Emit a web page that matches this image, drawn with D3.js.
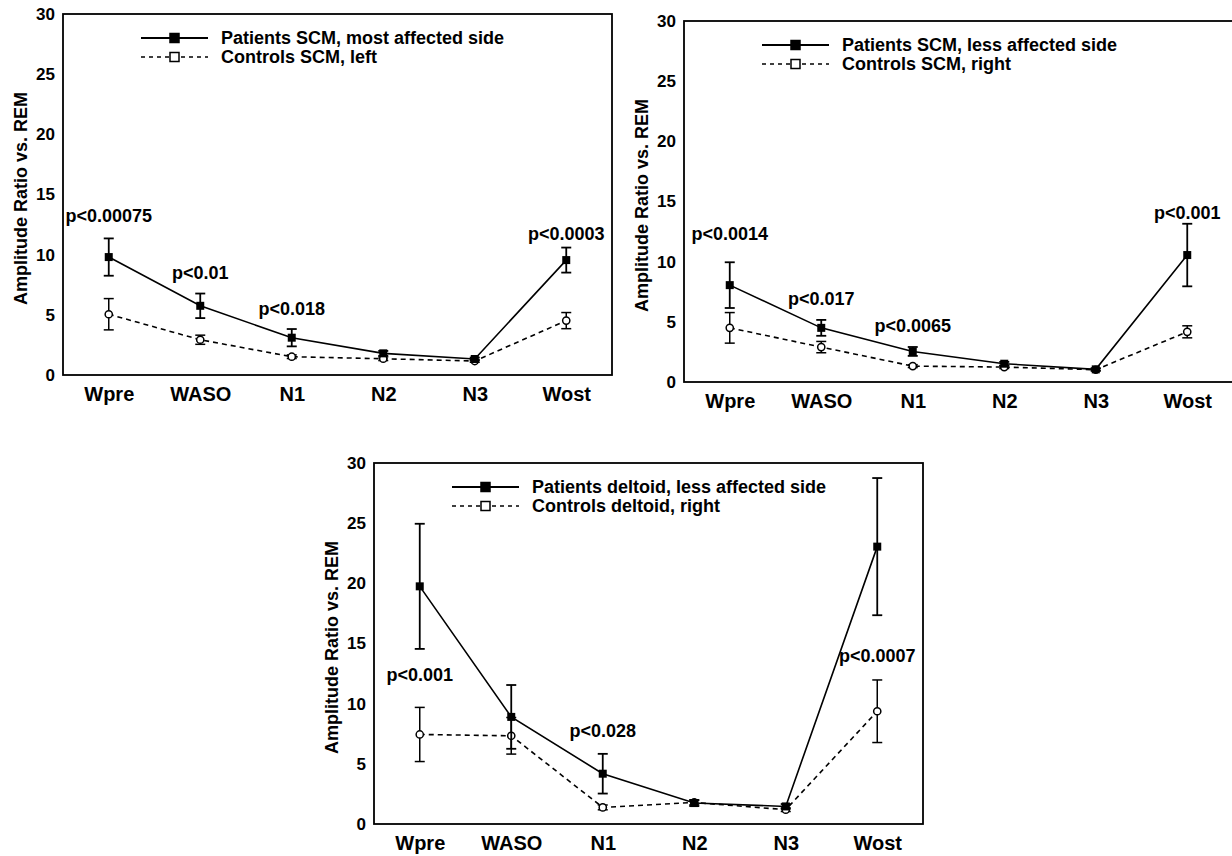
<!DOCTYPE html>
<html>
<head>
<meta charset="utf-8">
<script src="https://cdn.jsdelivr.net/npm/d3@7"></script>
<style>
  body { margin: 0; background: #fff; }
  svg { display: block; font-family: "Liberation Sans", Arial, sans-serif; font-weight: bold; }
</style>
</head>
<body>
<svg width="1232" height="856"></svg>
<script>
// sleep stages on the x axis
const stages = ['Wpre', 'WASO', 'N1', 'N2', 'N3', 'Wost'];
const yTicks = [0, 5, 10, 15, 20, 25, 30];

// panel A: SCM most affected side vs left
const patMeanA = [9.8, 5.75, 3.1, 1.8, 1.33, 9.55];
const patSemA  = [1.55, 1.02, 0.72, 0.2, 0.12, 1.04];
const conMeanA = [5.05, 2.93, 1.52, 1.35, 1.16, 4.52];
const conSemA  = [1.3, 0.38, 0.15, 0.15, 0.1, 0.67];
const pTextA = ['p<0.00075', 'p<0.01', 'p<0.018', 'p<0.0003'];
const pStageA = ['Wpre', 'WASO', 'N1', 'Wost'];
const pValA = [13.2, 8.5, 5.47, 11.74];

// panel B: SCM less affected side vs right
const patMeanB = [8.05, 4.5, 2.54, 1.52, 1.05, 10.55];
const patSemB  = [1.9, 0.66, 0.37, 0.15, 0.1, 2.6];
const conMeanB = [4.5, 2.9, 1.32, 1.24, 1.02, 4.17];
const conSemB  = [1.27, 0.47, 0.12, 0.12, 0.1, 0.5];
const pTextB = ['p<0.0014', 'p<0.017', 'p<0.0065', 'p<0.001'];
const pStageB = ['Wpre', 'WASO', 'N1', 'Wost'];
const pValB = [12.3, 6.9, 4.63, 14.06];

// panel C: deltoid less affected side vs right
const patMeanC = [19.75, 8.9, 4.18, 1.74, 1.46, 23.05];
const patSemC  = [5.2, 2.65, 1.65, 0.25, 0.2, 5.7];
const conMeanC = [7.44, 7.33, 1.38, 1.79, 1.19, 9.37];
const conSemC  = [2.25, 1.52, 0.2, 0.2, 0.15, 2.6];
const pTextC = ['p<0.001', 'p<0.028', 'p<0.0007'];
const pStageC = ['Wpre', 'N1', 'Wost'];
const pValC = [12.35, 7.75, 13.95];

const svg = d3.select('svg');
const W = 549, H = 361;

const panels = [
  { x: 63, y: 14, pm: patMeanA, ps: patSemA, cm: conMeanA, cs: conSemA,
    leg: ['Patients SCM, most affected side', 'Controls SCM, left'],
    pt: pTextA, pst: pStageA, pv: pValA },
  { x: 684, y: 21, pm: patMeanB, ps: patSemB, cm: conMeanB, cs: conSemB,
    leg: ['Patients SCM, less affected side', 'Controls SCM, right'],
    pt: pTextB, pst: pStageB, pv: pValB },
  { x: 374, y: 463, pm: patMeanC, ps: patSemC, cm: conMeanC, cs: conSemC,
    leg: ['Patients deltoid, less affected side', 'Controls deltoid, right'],
    pt: pTextC, pst: pStageC, pv: pValC }
];

const drawPanel = (p) => {
  const g = svg.append('g').attr('transform', `translate(${p.x},${p.y})`);

  const x = d3.scalePoint().domain(stages).range([0, W]).padding(0.5);
  const y = d3.scaleLinear().domain([0, 30]).range([H, 0]);

  g.append('rect')
    .attr('width', W).attr('height', H)
    .attr('fill', 'none').attr('stroke', '#000').attr('stroke-width', 1.8);

  const yAxis = g.append('g')
    .call(d3.axisLeft(y).tickValues(yTicks).tickSize(0).tickPadding(8));
  yAxis.select('.domain').remove();
  yAxis.selectAll('text').attr('font-size', 17).attr('font-weight', 'bold')
    .attr('font-family', '"Liberation Sans", Arial, sans-serif').attr('fill', '#000');

  const xAxis = g.append('g').attr('transform', `translate(0,${H})`)
    .call(d3.axisBottom(x).tickSize(0).tickPadding(12));
  xAxis.select('.domain').remove();
  xAxis.selectAll('text').attr('font-size', 20).attr('font-weight', 'bold')
    .attr('font-family', '"Liberation Sans", Arial, sans-serif').attr('fill', '#000');

  g.append('text')
    .attr('transform', `translate(-42,${H / 2 + 4}) rotate(-90)`)
    .attr('text-anchor', 'middle')
    .attr('dominant-baseline', 'central')
    .attr('font-size', 18)
    .text('Amplitude Ratio vs. REM');

  const line = d3.line().x((d, i) => x(stages[i])).y(d => y(d));

  const series = [
    { mean: p.cm, sem: p.cs, dash: '5,4', filled: false, ew: 1.5 },
    { mean: p.pm, sem: p.ps, dash: null, filled: true, ew: 1.8 }
  ];

  series.forEach(s => {
    g.append('path').datum(s.mean)
      .attr('d', line)
      .attr('fill', 'none').attr('stroke', '#000').attr('stroke-width', 1.6)
      .attr('stroke-dasharray', s.dash);

    const eb = g.append('g');
    s.mean.forEach((m, i) => {
      const cx = x(stages[i]);
      const lo = y(m - s.sem[i]), hi = y(m + s.sem[i]);
      eb.append('line').attr('x1', cx).attr('x2', cx).attr('y1', lo).attr('y2', hi);
      eb.append('line').attr('x1', cx - 5).attr('x2', cx + 5).attr('y1', lo).attr('y2', lo);
      eb.append('line').attr('x1', cx - 5).attr('x2', cx + 5).attr('y1', hi).attr('y2', hi);
    });
    eb.selectAll('line').attr('stroke', '#000').attr('stroke-width', s.ew);

    if (s.filled) {
      g.selectAll(null).data(s.mean).enter().append('rect')
        .attr('x', (d, i) => x(stages[i]) - 4)
        .attr('y', d => y(d) - 4)
        .attr('width', 8).attr('height', 8)
        .attr('fill', '#000');
    } else {
      g.selectAll(null).data(s.mean).enter().append('circle')
        .attr('cx', (d, i) => x(stages[i]))
        .attr('cy', d => y(d))
        .attr('r', 3.6)
        .attr('fill', '#fff').attr('stroke', '#000').attr('stroke-width', 1.5);
    }
  });

  // p-value annotations
  p.pt.forEach((t, i) => {
    g.append('text')
      .attr('x', x(p.pst[i]))
      .attr('y', y(p.pv[i]))
      .attr('text-anchor', 'middle')
      .attr('dominant-baseline', 'central')
      .attr('font-size', 18)
      .text(t);
  });

  // legend
  const lg = g.append('g').attr('transform', 'translate(78,24)');
  [0, 1].forEach(k => {
    const row = lg.append('g').attr('transform', `translate(0,${k * 19})`);
    row.append('line').attr('x1', 0).attr('x2', 67)
      .attr('stroke', '#000').attr('stroke-width', k === 0 ? 2 : 1.6)
      .attr('stroke-dasharray', k === 0 ? null : '4,4');
    row.append('rect').attr('x', 29).attr('y', -4.5).attr('width', 9).attr('height', 9)
      .attr('fill', k === 0 ? '#000' : '#fff')
      .attr('stroke', '#000').attr('stroke-width', 1.5);
    row.append('text').attr('x', 80).attr('dominant-baseline', 'central')
      .attr('font-size', 18).text(p.leg[k]);
  });
};

panels.forEach(drawPanel);
</script>
</body>
</html>
